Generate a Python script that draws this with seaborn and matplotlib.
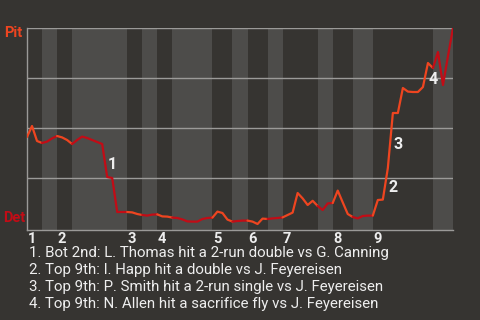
import numpy as np
import pandas as pd
import matplotlib
matplotlib.use("Agg")
import matplotlib.pyplot as plt
import seaborn as sns

# Pit win probability after each plate appearance (index 0 = game start)
win_prob = [0.455, 0.51, 0.435, 0.425,            # T1
            0.432, 0.448, 0.46,                   # B1
            0.453, 0.44, 0.42,                    # T2
            0.44, 0.457, 0.45, 0.44, 0.43, 0.42, 0.255, 0.25, 0.08, 0.08, 0.08,  # B2
            0.078, 0.07, 0.065,                   # T3
            0.062, 0.067, 0.068,                  # B3
            0.058, 0.057, 0.052,                  # T4
            0.05, 0.043, 0.033, 0.032, 0.032, 0.045, 0.05, 0.052,  # B4
            0.082, 0.075, 0.042, 0.032,           # T5
            0.035, 0.037, 0.037,                  # B5
            0.032, 0.02, 0.047, 0.045,            # T6
            0.048, 0.05, 0.053,                   # B6
            0.065, 0.077, 0.175, 0.148, 0.115, 0.136, 0.11,  # T7
            0.09, 0.123, 0.125,                   # B7
            0.187, 0.128, 0.07, 0.055,            # T8
            0.048, 0.06, 0.062, 0.062,            # B8
            0.14, 0.142, 0.30, 0.575, 0.575, 0.70, 0.682, 0.68, 0.68, 0.705, 0.825, 0.80,  # T9
            0.88, 0.715, 0.86, 1.0]               # B9

# plate appearances per half inning (top 1, bot 1, top 2, ...)
half_lengths = [3, 3, 3, 11, 3, 3, 3, 8, 4, 3, 4, 3, 7, 3, 4, 4, 12, 4]
inning_labels = ["1", "2", "3", "4", "5", "6", "7", "8", "9"]

# events: (label, PA index where it ended)
event_ids = ["1", "2", "3", "4"]
event_idx = [16, 72, 73, 80]
notes = ["1. Bot 2nd: L. Thomas hit a 2-run double vs G. Canning",
         "2. Top 9th: I. Happ hit a double vs J. Feyereisen",
         "3. Top 9th: P. Smith hit a 2-run single vs J. Feyereisen",
         "4. Top 9th: N. Allen hit a sacrifice fly vs J. Feyereisen"]

team_top = "Pit"
team_bot = "Det"

BG = "#363431"
LIGHT = "#4d4c4a"
PIT_C = "#ee4520"
DET_C = "#c20c16"
GRID = "#9b9a98"
TXT = "#eeeeee"

sns.set_theme(style="dark")
plt.rcParams['font.family'] = ['Roboto', 'DejaVu Sans']

fig = plt.figure(figsize=(4.8, 3.2), dpi=100, facecolor=BG)
ax = fig.add_axes([27/480, 1-230/320, 426/480, 202/320])
ax.set_facecolor(BG)

n = len(win_prob) - 1
bounds = np.concatenate([[0], np.cumsum(half_lengths)])
df = pd.DataFrame({"pa": np.arange(n + 1), "wp": win_prob})

for k in range(len(half_lengths)):
    s, e = bounds[k], bounds[k + 1]
    if k % 2 == 1:
        ax.axvspan(s, e, color=LIGHT, lw=0, zorder=0)
    seg = df.iloc[s:e + 1]
    sns.lineplot(data=seg, x="pa", y="wp", sort=False, ax=ax,
                 color=PIT_C if k % 2 == 0 else DET_C, lw=1.6, zorder=3,
                 legend=False, estimator=None)

for yv in [0.25, 0.5, 0.75, 1.0]:
    ax.axhline(yv, color=GRID, lw=1, zorder=1)

ax.set_xlim(0, n)
ax.set_ylim(-0.01, 1.0)
ax.set_xticks([])
ax.set_yticks([])
ax.set_xlabel("")
ax.set_ylabel("")
for side in ["top", "right"]:
    ax.spines[side].set_visible(False)
for side in ["left", "bottom"]:
    ax.spines[side].set_visible(True)
    ax.spines[side].set_color(GRID)
    ax.spines[side].set_linewidth(1)

# inning labels
for i, lab in enumerate(inning_labels):
    ax.text(bounds[2 * i] + 0.9, -0.022, lab, ha="center", va="top",
            color=TXT, fontsize=10.5, fontweight="bold", transform=ax.transData,
            clip_on=False)

# event markers
for lab, idx in zip(event_ids, event_idx):
    mid = (win_prob[idx - 1] + win_prob[idx]) / 2
    ax.text(idx + 0.1, mid - 0.02, lab, ha="left", va="center", color=TXT,
            fontsize=11.5, fontweight="bold", zorder=4)

fig.text(4/480, 1-33/320, team_top, color=PIT_C, fontsize=10.5, fontweight="bold",
         ha="left", va="center")
fig.text(3/480, 1-218/320, team_bot, color=DET_C, fontsize=10.5, fontweight="bold",
         ha="left", va="center")

for j, line in enumerate(notes):
    fig.text(29/480, 1-(253 + 17*j)/320, line, color=TXT, fontsize=10.8,
             ha="left", va="center")

fig.savefig("out.png", dpi=100, facecolor=BG)
